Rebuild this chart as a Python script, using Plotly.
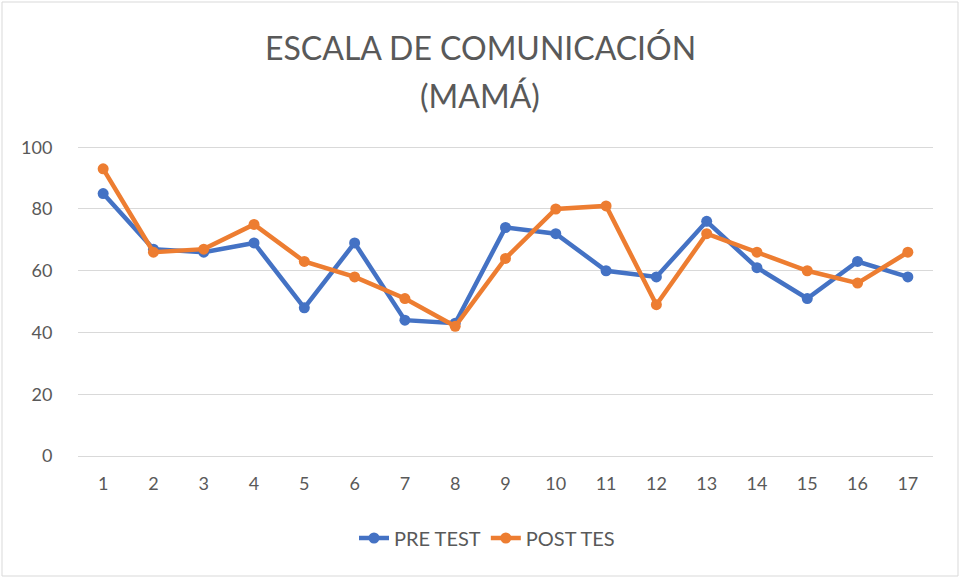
import plotly.graph_objects as go

categories = [str(i) for i in range(1, 18)]
pre_test = [85, 67, 66, 69, 48, 69, 44, 43, 74, 72, 60, 58, 76, 61, 51, 63, 58]
post_test = [93, 66, 67, 75, 63, 58, 51, 42, 64, 80, 81, 49, 72, 66, 60, 56, 66]
y_ticks = [0, 20, 40, 60, 80, 100]
title_lines = ["ESCALA DE COMUNICACIÓN", "(MAMÁ)"]

W, H = 961, 578
L, R, T, B = 78, 28, 146, 122
PW, PH = W - L - R, H - T - B

fig = go.Figure()
fig.add_trace(go.Scatter(x=categories, y=pre_test, name="PRE TEST", mode="lines+markers",
                         line=dict(color="#4472C4", width=4.5), marker=dict(size=11, color="#4472C4")))
fig.add_trace(go.Scatter(x=categories, y=post_test, name="POST TES", mode="lines+markers",
                         line=dict(color="#ED7D31", width=4.5), marker=dict(size=11, color="#ED7D31")))

fig.update_layout(
    width=W, height=H,
    margin=dict(l=L, r=R, t=T, b=B),
    paper_bgcolor="white", plot_bgcolor="white",
    font=dict(family="Lato, Open Sans, sans-serif", color="#595959", size=18),
    showlegend=True,
    legend=dict(orientation="h", x=(487 - L) / PW, xanchor="center",
                y=(456 - 538) / PH, yanchor="middle",
                font=dict(size=20, color="#595959")),
    xaxis=dict(type="category", range=[-0.5, 16.5], showgrid=False, zeroline=False,
               showline=True, linecolor="#d9d9d9", linewidth=1,
               ticks="outside", ticklen=11, tickcolor="rgba(0,0,0,0)",
               tickfont=dict(size=18, color="#595959")),
    yaxis=dict(range=[0, 100.4], tickvals=y_ticks, showgrid=True, gridcolor="#d9d9d9",
               gridwidth=1, zeroline=False, showline=False,
               ticks="outside", ticklen=21, tickcolor="rgba(0,0,0,0)",
               tickfont=dict(size=18, color="#595959")),
)

for text, py in zip(title_lines, [48, 95]):
    fig.add_annotation(text=text, xref="paper", yref="paper", x=(480 - L) / PW, xanchor="center",
                       y=1 + (T - py) / PH, yanchor="middle", showarrow=False,
                       font=dict(size=32, color="#595959"))

fig.add_shape(type="rect", xref="paper", yref="paper",
              x0=(2 - L) / PW, x1=(958 - L) / PW,
              y0=(T + PH - 576) / PH, y1=(T + PH - 2) / PH,
              line=dict(color="#d9d9d9", width=1), layer="below")

fig.write_html("out.html", config={"displayModeBar": False},
               post_script="document.body.style.margin='0';document.body.style.overflow='hidden';")
